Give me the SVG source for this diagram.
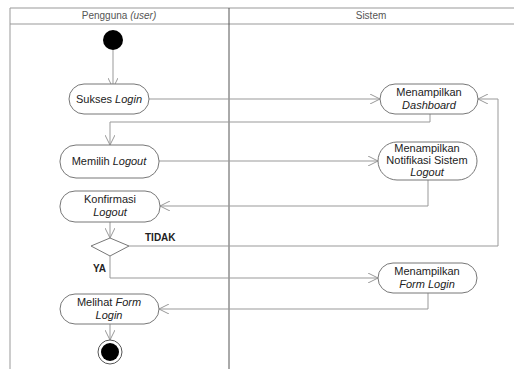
<svg xmlns="http://www.w3.org/2000/svg" width="514" height="369" viewBox="0 0 514 369">
<style>
.frame{fill:none;stroke:#999;stroke-width:1}
.div{stroke:#555;stroke-width:1}
.node{fill:#fff;stroke:#777;stroke-width:1}
.conn{fill:none;stroke:#999;stroke-width:1}
.t{font-family:"Liberation Sans",Arial,sans-serif;font-size:11px;fill:#222;text-anchor:middle}
.h{font-family:"Liberation Sans",Arial,sans-serif;font-size:10px;fill:#555;text-anchor:middle}
.b{font-family:"Liberation Sans",Arial,sans-serif;font-size:10px;font-weight:bold;fill:#222}
</style>
<defs>
<marker id="arr" viewBox="0 0 10 10" refX="10" refY="5" markerWidth="10" markerHeight="10" markerUnits="userSpaceOnUse" orient="auto">
<path d="M0,0 L10,5 L0,10" fill="none" stroke="#999" stroke-width="1"/>
</marker>
</defs>
<rect width="514" height="369" fill="#fff"/>
<g id="swimlanes">
<path class="frame" d="M10,369 V8 H514 M10,24 H514"/>
<line class="div" x1="229" y1="8" x2="229" y2="369"/>
<text class="h" x="119" y="19">Pengguna <tspan font-style="italic">(user)</tspan></text>
<text class="h" x="371" y="19">Sistem</text>
</g>
<g id="connectors">
<path class="conn" d="M113,50 V88" marker-end="url(#arr)"/>
<path class="conn" d="M149,99 H380" marker-end="url(#arr)"/>
<path class="conn" d="M430,114 V122 H110 V145" marker-end="url(#arr)"/>
<path class="conn" d="M159,161 H378" marker-end="url(#arr)"/>
<path class="conn" d="M428,180 V206 H160" marker-end="url(#arr)"/>
<path class="conn" d="M110,222 V238" marker-end="url(#arr)"/>
<path class="conn" d="M129,246 H498 V99 H478" marker-end="url(#arr)"/>
<path class="conn" d="M110,256 V278 H378" marker-end="url(#arr)"/>
<path class="conn" d="M428,293 V309 H159" marker-end="url(#arr)"/>
<path class="conn" d="M110,324 V340" marker-end="url(#arr)"/>
<text class="b" x="145" y="241">TIDAK</text>
<text class="b" x="93" y="272">YA</text>
</g>
<g id="start"><circle cx="113" cy="40" r="10" fill="#000"/></g>
<g id="sukses-login">
<rect class="node" x="69" y="84" width="80" height="30" rx="15"/>
<text class="t" x="109" y="103">Sukses <tspan font-style="italic">Login</tspan></text>
</g>
<g id="menampilkan-dashboard">
<rect class="node" x="380" y="84" width="98" height="30" rx="15"/>
<text class="t" x="429" y="96">Menampilkan</text>
<text class="t" x="429" y="109" font-style="italic">Dashboard</text>
</g>
<g id="memilih-logout">
<rect class="node" x="60" y="145" width="99" height="33" rx="16"/>
<text class="t" x="109" y="165">Memilih <tspan font-style="italic">Logout</tspan></text>
</g>
<g id="notifikasi-logout">
<rect class="node" x="378" y="142" width="99" height="38" rx="19"/>
<text class="t" x="427" y="152">Menampilkan</text>
<text class="t" x="427" y="164">Notifikasi Sistem</text>
<text class="t" x="427" y="176" font-style="italic">Logout</text>
</g>
<g id="konfirmasi-logout">
<rect class="node" x="60" y="191" width="100" height="31" rx="15"/>
<text class="t" x="110" y="203">Konfirmasi</text>
<text class="t" x="110" y="216" font-style="italic">Logout</text>
</g>
<g id="decision">
<polygon class="node" points="110,238 129,246 110,256 91,246"/>
</g>
<g id="menampilkan-form-login">
<rect class="node" x="378" y="263" width="99" height="30" rx="15"/>
<text class="t" x="427" y="275">Menampilkan</text>
<text class="t" x="427" y="288" font-style="italic">Form Login</text>
</g>
<g id="melihat-form-login">
<rect class="node" x="60" y="294" width="99" height="30" rx="15"/>
<text class="t" x="109" y="306">Melihat <tspan font-style="italic">Form</tspan></text>
<text class="t" x="109" y="319" font-style="italic">Login</text>
</g>
<g id="end">
<circle cx="110" cy="352" r="12" fill="#fff" stroke="#555" stroke-width="1"/>
<circle cx="110" cy="352" r="9" fill="#000"/>
</g>
</svg>
